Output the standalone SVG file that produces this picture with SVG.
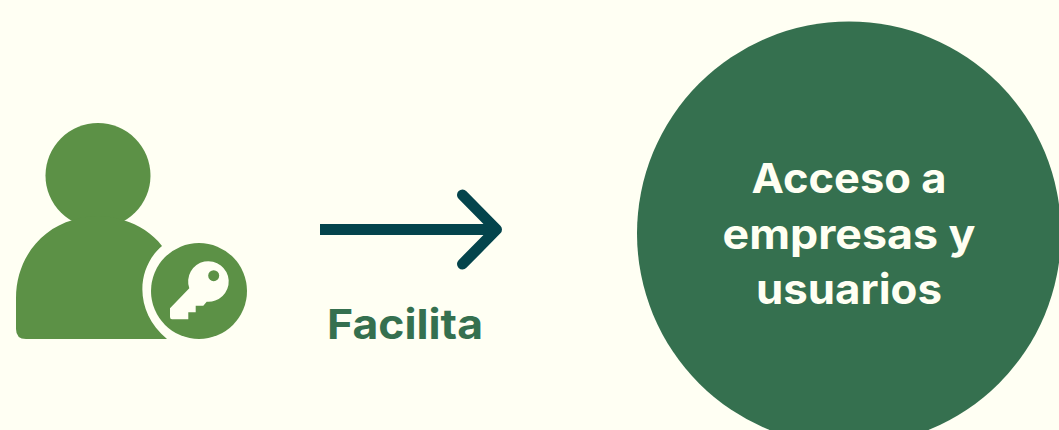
<svg xmlns="http://www.w3.org/2000/svg" width="1059" height="430" viewBox="0 0 1059 430">
<style>
.t{font-family:"Inter","Open Sans","Liberation Sans",sans-serif;font-weight:700;text-anchor:middle}
.w{fill:#fffff3;font-size:41px}
</style>
<rect width="1059" height="430" fill="#fffff3"/>
<g id="user">
<circle cx="98" cy="175.500" r="52.500" fill="#5c9146"/>
<path d="M73 220 Q98 212 123 220 C139 225 152 233 162 246 C136 268 134 312 167 339 L26 339 Q16 339 16 329 L16 298 C16 260 40 229 73 220 Z" fill="#5c9146"/>
<circle cx="199" cy="291" r="48" fill="#5c9146"/>
<path d="M189.300 288.300 A20.300 20.300 0 1 1 206.700 301.700 L203.300 305.700 L195.700 305.700 L195.700 312.300 L188.300 312.300 L188.300 319.300 L172 319.300 Q170 319.300 170 317 L170 308.300 Z" fill="#fffff3"/>
<circle cx="213.700" cy="275.700" r="5.500" fill="#5c9146"/>
</g>
<g id="connectors">
<path d="M320 229.500 H496.500" fill="none" stroke="#04444c" stroke-width="11"/>
<path d="M462.500 195 L496.500 229.500 L462.500 264" fill="none" stroke="#04444c" stroke-width="11" stroke-linecap="round" stroke-linejoin="round"/>
</g>
<g id="label">
<text class="t" x="405" y="339" font-size="41" fill="#35704f" textLength="156" lengthAdjust="spacingAndGlyphs">Facilita</text>
</g>
<g id="circle-node">
<circle cx="849" cy="233.500" r="212" fill="#35704f"/>
<text class="t w" x="849" y="192.500" textLength="195" lengthAdjust="spacingAndGlyphs">Acceso a</text>
<text class="t w" x="849" y="249" textLength="253" lengthAdjust="spacingAndGlyphs">empresas y</text>
<text class="t w" x="849" y="304" textLength="186" lengthAdjust="spacingAndGlyphs">usuarios</text>
</g>
</svg>
